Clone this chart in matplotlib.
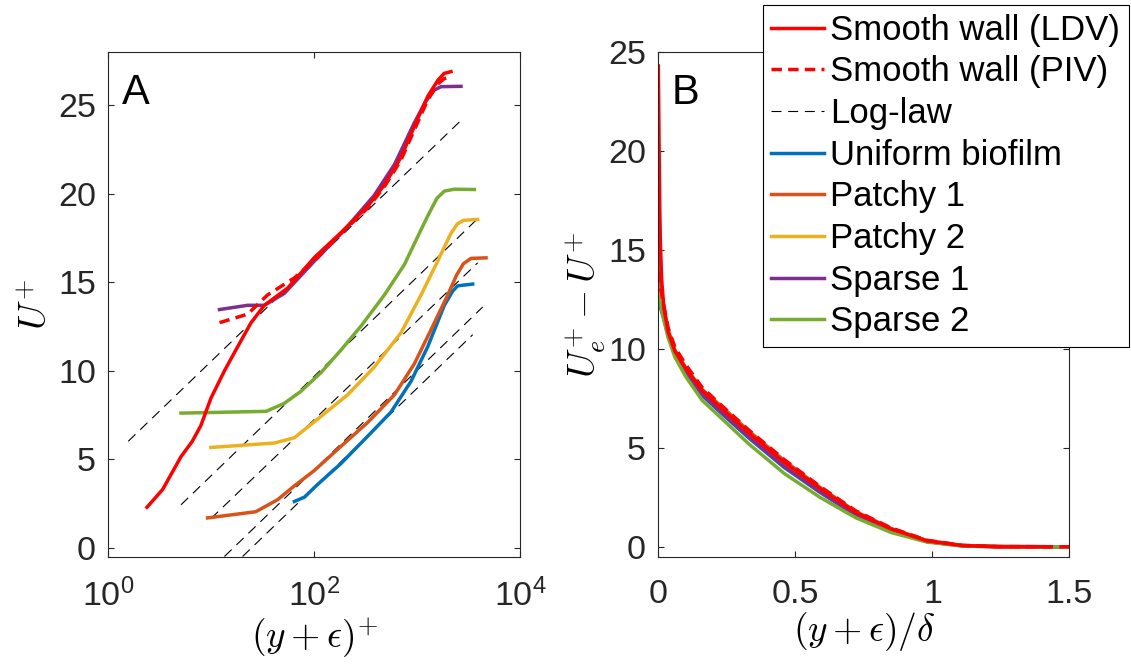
"""
Mean velocity profiles: smooth wall vs. biofilm-covered walls.
Panel A: inner-scaled profiles with shifted log-law lines.
Panel B: velocity-defect form against outer-scaled height.
"""
import matplotlib
matplotlib.use("Agg")
import matplotlib.pyplot as plt

plt.rcParams["font.family"] = ["Liberation Sans", "DejaVu Sans"]
plt.rcParams["mathtext.fontset"] = "cm"

RED = "#FF0000"
BLUE = "#0072BD"
ORANGE = "#D95319"
YELLOW = "#EDB120"
PURPLE = "#7E2F8E"
GREEN = "#77AC30"
AXC = "#262626"

# ---- panel A: U+ vs (y+eps)+ ----
ldv_x = [2.37, 3.37, 5.07, 6.5, 7.9, 9.9, 13.4, 18.0, 24.3, 32.7, 55, 100, 181, 330, 478, 692, 933, 1260, 1575, 1820, 2120]
ldv_u = [2.29, 3.30, 5.15, 6.0, 6.9, 8.45, 10.0, 11.36, 12.72, 13.7, 14.67, 16.4, 17.8, 19.3, 20.5, 22.05, 23.8, 25.5, 26.4, 26.8, 26.9]

piv_x = [12, 22.5, 35, 64, 108, 181, 330, 478, 692, 933, 1260, 1575, 1820, 2150]
piv_u = [12.72, 13.2, 14.28, 15.25, 16.4, 17.75, 19.2, 20.4, 21.9, 23.6, 25.3, 26.2, 26.5, 26.6]

uni_x = [64, 80, 108, 181, 330, 555, 870, 1260, 1828, 2200, 2460, 3445]
uni_u = [2.62, 2.86, 3.59, 4.76, 6.31, 7.67, 9.42, 11.36, 13.7, 14.5, 14.8, 14.9]

p1_x = [9.2, 27, 44, 64, 100, 181, 330, 598, 933, 1360, 1970, 2400, 2800, 3315, 4640]
p1_u = [1.69, 2.04, 2.72, 3.50, 4.37, 5.73, 7.09, 8.64, 10.39, 12.33, 14.28, 15.4, 16.05, 16.35, 16.38]

p2_x = [9.9, 41, 64, 108, 210, 380, 692, 1085, 1575, 2120, 2450, 2800, 3850]
p2_u = [5.67, 5.92, 6.22, 7.28, 8.64, 10.2, 12.14, 14.28, 16.2, 17.77, 18.3, 18.5, 18.55]

s1_x = [12, 22.5, 32.7, 51, 100, 210, 380, 600, 933, 1200, 1450, 1700, 2650]
s1_u = [13.46, 13.7, 13.7, 14.37, 16.2, 18.16, 19.9, 21.66, 24.0, 25.2, 25.85, 26.05, 26.07]

s2_x = [5.07, 34, 51, 74, 116, 181, 284, 478, 748, 1085, 1300, 1550, 1828, 2290, 3575]
s2_u = [7.61, 7.71, 8.16, 8.84, 9.9, 11.17, 12.53, 14.28, 16.0, 17.97, 18.9, 19.75, 20.15, 20.26, 20.24]

# log-law segments (start/end)
log_x0 = [1.56, 5.07, 9.9, 13.4, 20.1]
log_x1 = [2690, 3700, 3850, 4300, 3445]
log_u0 = [6.02, 2.43, 1.65, -0.49, -0.49]
log_u1 = [24.18, 18.5, 16.1, 13.6, 12.04]

# ---- panel B: Ue+ - U+ vs (y+eps)/delta ----
ldv_eta = [0, 0.0015, 0.003, 0.005, 0.0075, 0.012, 0.02, 0.035, 0.06, 0.1, 0.16, 0.23, 0.33, 0.46, 0.59, 0.72, 0.85, 0.98, 1.11, 1.24, 1.43]
ldv_def = [24.3, 22.0, 19.8, 17.3, 15.3, 13.5, 12.1, 10.9, 9.9, 9.0, 7.9, 7.0, 5.75, 4.26, 2.95, 1.74, 0.9, 0.3, 0.06, 0.0, 0.0]

eta = [0, 0.005, 0.01, 0.02, 0.035, 0.06, 0.1, 0.16, 0.23, 0.33, 0.46, 0.59, 0.72, 0.85, 0.98, 1.11, 1.24, 1.5]
piv_def = [13.9, 13.4, 12.9, 12.2, 11.1, 10.1, 9.2, 8.05, 7.15, 5.9, 4.4, 3.05, 1.82, 0.95, 0.33, 0.07, 0.01, 0.0]
uni_def = [12.3, 12.2, 12.0, 11.5, 10.7, 9.75, 8.8, 7.65, 6.75, 5.5, 4.0, 2.75, 1.6, 0.8, 0.26, 0.05, 0.01, 0.0]
p1_def = [14.7, 13.6, 13.0, 12.1, 11.0, 9.95, 9.05, 7.95, 7.1, 5.85, 4.35, 3.0, 1.78, 0.92, 0.32, 0.07, 0.01, 0.0]
p2_def = [12.9, 12.6, 12.3, 11.8, 10.9, 9.9, 8.95, 7.85, 6.95, 5.7, 4.2, 2.9, 1.7, 0.88, 0.3, 0.06, 0.01, 0.0]
s1_def = [12.5, 12.3, 12.1, 11.6, 10.8, 9.8, 8.85, 7.7, 6.8, 5.55, 4.05, 2.78, 1.62, 0.82, 0.27, 0.05, 0.01, 0.0]
s2_def = [12.65, 12.4, 12.1, 11.5, 10.6, 9.6, 8.6, 7.4, 6.5, 5.2, 3.7, 2.5, 1.47, 0.72, 0.24, 0.04, 0.0, 0.0]

LW = 2.5
PIV_DASH = (3, 1.8)
LOG_DASH = (9, 6)


def style_axes(ax):
    for s in ax.spines.values():
        s.set_color(AXC)
        s.set_linewidth(0.8)
    ax.tick_params(which="both", direction="in", top=True, right=True,
                   colors=AXC, labelsize=24.5)
    ax.tick_params(which="major", length=4, width=0.8)
    ax.tick_params(which="minor", length=2.5, width=0.6)
    ax.tick_params(axis="y", pad=9)
    ax.tick_params(axis="x", pad=16)


fig = plt.figure(figsize=(11.31, 6.67), dpi=100)
ax1 = fig.add_axes([0.0958, 0.1654, 0.3643, 0.7564])
ax2 = fig.add_axes([0.5821, 0.1654, 0.3634, 0.7564])

# panel A
h_ldv, = ax1.plot(ldv_x, ldv_u, color=RED, lw=LW, label="Smooth wall (LDV)")
h_piv, = ax1.plot(piv_x, piv_u, color=RED, lw=LW, ls="--", dashes=PIV_DASH,
                  label="Smooth wall (PIV)")
h_log = None
for i in range(len(log_x0)):
    h, = ax1.plot([log_x0[i], log_x1[i]], [log_u0[i], log_u1[i]], color="black",
                  lw=0.8, ls="--", dashes=LOG_DASH, label="Log-law")
    h_log = h_log or h
h_uni, = ax1.plot(uni_x, uni_u, color=BLUE, lw=LW, label="Uniform biofilm")
h_p1, = ax1.plot(p1_x, p1_u, color=ORANGE, lw=LW, label="Patchy 1")
h_p2, = ax1.plot(p2_x, p2_u, color=YELLOW, lw=LW, label="Patchy 2")
h_s1, = ax1.plot(s1_x, s1_u, color=PURPLE, lw=LW, label="Sparse 1")
h_s2, = ax1.plot(s2_x, s2_u, color=GREEN, lw=LW, label="Sparse 2")
h_ldv.set_zorder(3)
h_piv.set_zorder(3)

ax1.set_xscale("log")
ax1.set_xlim(1, 1e4)
ax1.set_ylim(-0.5, 28)
ax1.set_xticks([1, 1e2, 1e4])
ax1.set_yticks([0, 5, 10, 15, 20, 25])
style_axes(ax1)
ax1.set_xlabel(r"$(y+\epsilon)^{+}$", fontsize=27, labelpad=2)
ax1.set_ylabel(r"$U^{+}$", fontsize=27, labelpad=2)
ax1.text(0.032, 0.898, "A", transform=ax1.transAxes, fontsize=30,
         ha="left", va="baseline")

# panel B
ax2.plot(eta, uni_def, color=BLUE, lw=LW)
ax2.plot(eta, p1_def, color=ORANGE, lw=LW)
ax2.plot(eta, p2_def, color=YELLOW, lw=LW)
ax2.plot(eta, s1_def, color=PURPLE, lw=LW)
ax2.plot(eta, s2_def, color=GREEN, lw=LW)
ax2.plot(eta, piv_def, color=RED, lw=LW, ls="--", dashes=PIV_DASH)
ax2.plot(ldv_eta, ldv_def, color=RED, lw=LW)
ax2.set_xlim(0, 1.5)
ax2.set_ylim(-0.5, 25)
ax2.set_xticks([0, 0.5, 1, 1.5])
ax2.set_xticklabels(["0", "0.5", "1", "1.5"])
ax2.set_yticks([0, 5, 10, 15, 20, 25])
style_axes(ax2)
ax2.set_xlabel(r"$(y+\epsilon)/\delta$", fontsize=27, labelpad=0)
ax2.set_ylabel(r"$U_e^{+}-U^{+}$", fontsize=27, labelpad=0)
ax2.text(0.032, 0.898, "B", transform=ax2.transAxes, fontsize=30,
         ha="left", va="baseline")

handles = [h_ldv, h_piv, h_log, h_uni, h_p1, h_p2, h_s1, h_s2]
leg = fig.legend(handles=handles, labels=[h.get_label() for h in handles],
                 loc="upper right", bbox_to_anchor=(1129 / 1131, 1 - 5 / 667),
                 bbox_transform=fig.transFigure, borderaxespad=0,
                 fontsize=25, labelspacing=0.25, handlelength=1.5,
                 handletextpad=0.2, borderpad=0.25, fancybox=False,
                 framealpha=1, edgecolor="black")
leg.get_frame().set_linewidth(0.8)

fig.savefig("out.png", dpi=100)
